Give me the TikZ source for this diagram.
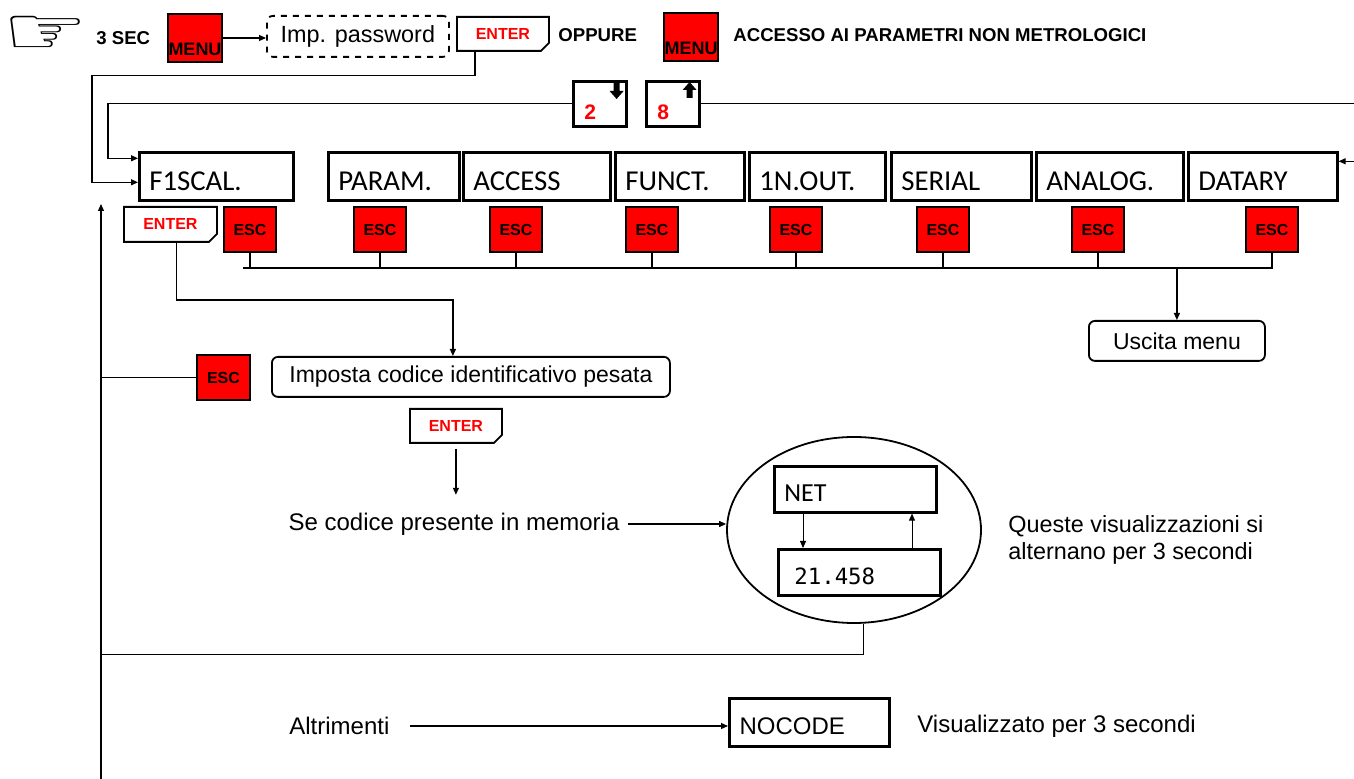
\documentclass[tikz,border=0pt]{standalone}
\usepackage{fontspec}
\setmainfont{Liberation Sans}
\newfontfamily\calibrifont{Carlito}
\newfontfamily\displayfont{DejaVu Sans Mono}
\newfontfamily\symbolfont{DejaVu Sans}
\usetikzlibrary{arrows.meta, positioning, calc, shapes.geometric, shapes.misc}

\begin{document}
\begin{tikzpicture}[
  x=0.5pt, y=-0.5pt,
  wire/.style    = {line width=0.6pt},
  arrow/.style   = {line width=0.6pt, -{Triangle[length=3.5pt, width=3pt]}},
  redkey/.style  = {draw, fill=red, line width=1.4pt, minimum width=26pt, minimum height=22.5pt,
                    inner sep=0pt, font=\bfseries\fontsize{8}{8}\selectfont},
  menukey/.style = {redkey, minimum width=27pt, minimum height=24pt, text height=18pt,
                    text depth=0pt, font=\bfseries\fontsize{9}{9}\selectfont},
  enterkey/.style = {chamfered rectangle, chamfered rectangle corners=south east,
                    chamfered rectangle xsep=2pt, chamfered rectangle ysep=2pt,
                    draw, line width=0.9pt, anchor=north west, inner sep=0pt,
                    minimum width=46pt, minimum height=17pt, text=red,
                    font=\bfseries\fontsize{8}{8}\selectfont},
  numkey/.style  = {draw, line width=1.3pt, anchor=north west, minimum height=22.5pt,
                    text width=15.5pt, align=left, inner xsep=5.5pt, inner ysep=0pt,
                    text height=15.5pt, text depth=0pt, text=red,
                    font=\bfseries\fontsize{10.5}{10.5}\selectfont},
  menubox/.style = {draw, line width=1.3pt, anchor=north west, minimum height=24pt,
                    text height=14pt, text depth=0pt, inner xsep=5pt, inner ysep=0pt,
                    align=left, font=\calibrifont\fontsize{14.4}{14.4}\selectfont},
  display/.style = {draw, line width=1.3pt, anchor=north west, minimum height=23pt,
                    text height=12pt, text depth=0pt, inner ysep=0pt, align=left},
  msgbox/.style  = {draw, line width=0.9pt, rounded corners=3pt, anchor=north west,
                    minimum height=20pt, font=\fontsize{11.5}{11.5}\selectfont},
  boldlbl/.style = {anchor=west, inner sep=0pt, font=\bfseries\fontsize{9.3}{9.3}\selectfont},
  plain/.style   = {inner sep=0pt, font=\fontsize{12}{14}\selectfont}
]
\useasboundingbox (0,0) rectangle (1354,779);

%--------------------------------------------------
% entry line
%--------------------------------------------------
\node[font=\symbolfont\fontsize{48}{48}\selectfont, inner sep=0pt] (hand) at (46,35)
  {\scalebox{1}[0.7]{☞}};
\node[boldlbl] (sec3) at (96,38) {3 SEC};
\node[menukey] (menu_a) at (195,38) {MENU};
\node[msgbox, dashed, minimum width=91pt, minimum height=20.5pt,
      font=\fontsize{11.7}{11.7}\selectfont] (pw) at (266,15) {Imp. password};
\node[enterkey] (enter_pw) at (456,16) {ENTER};
\node[boldlbl] (oppure) at (558,35) {OPPURE};
\node[menukey] (menu_b) at (691,37) {MENU};
\node[boldlbl] (accesso) at (733,35) {ACCESSO AI PARAMETRI NON METROLOGICI};

\draw[arrow] (menu_a.east) -- (menu_a.east -| pw.west);

% scroll keys
\node[numkey] (key_down) at (572,80) {2};
\node[numkey] (key_up) at (645,80) {8};
\fill ($(key_down.north east)+(-14,3)$) -- ++(6,0) -- ++(0,8) -- ++(4,0) -- ++(-7,8)
  -- ++(-7,-8) -- ++(4,0) -- cycle;
\fill ($(key_up.north east)+(-11,2)$) -- ++(7,8) -- ++(-4,0) -- ++(0,8) -- ++(-6,0)
  -- ++(0,-8) -- ++(-4,0) -- cycle;

%--------------------------------------------------
% menu row
%--------------------------------------------------
\node[menubox, text width=67pt]   (fiscal) at (138,151)  {F1SCAL.};
\node[menubox, text width=55.5pt] (param)  at (327,151)  {PARAM.};
\node[menubox, text width=63.5pt] (access) at (462,151)  {ACCESS};
\node[menubox, text width=54.5pt] (funct)  at (614,151)  {FUNCT.};
\node[menubox, text width=58pt]   (inout)  at (748,151)  {1N.OUT.};
\node[menubox, text width=60pt]   (serial) at (890,151)  {SERIAL};
\node[menubox, text width=63.5pt] (analog) at (1035,151) {ANALOG.};
\node[menubox, text width=64.5pt] (datary) at (1187,151) {DATARY};

\node[enterkey, minimum width=46.5pt, minimum height=17.5pt] (enter_f) at (123,206) {ENTER};

\node[redkey] (esc_fiscal) at (250,229.5)  {ESC};
\node[redkey] (esc_param)  at (380,229.5)  {ESC};
\node[redkey] (esc_access) at (516,229.5)  {ESC};
\node[redkey] (esc_funct)  at (652,229.5)  {ESC};
\node[redkey] (esc_inout)  at (796,229.5)  {ESC};
\node[redkey] (esc_serial) at (943,229.5)  {ESC};
\node[redkey] (esc_analog) at (1098,229.5) {ESC};
\node[redkey] (esc_datary) at (1272,229.5) {ESC};

\node[msgbox, minimum width=88pt] (uscita) at (1088,320) {Uscita menu};

% loops from the entry line and the scroll keys
\draw[arrow] ($(enter_pw.south west)+(19,0)$) -- ++(0,24) -| ($(fiscal.west)+(-46,6)$)
  -- ($(fiscal.west)+(0,6)$);
\draw[arrow] (key_down.west) -| ($(fiscal.west)+(-30,-18)$) -- ($(fiscal.west)+(0,-18)$);
\coordinate (edge_r) at (1354,0);
\draw[wire] (key_up.east) -- (key_up.east -| edge_r);
\draw[arrow] ($(datary.east)+(18,-15)$) -- ($(datary.east)+(0,-15)$);

% esc bus
\coordinate (bus_l) at (243,268);
\draw[wire] (bus_l) -| (esc_datary.south);
\draw[wire] (esc_fiscal.south) -- (esc_fiscal.south |- bus_l);
\draw[wire] (esc_param.south)  -- (esc_param.south |- bus_l);
\draw[wire] (esc_access.south) -- (esc_access.south |- bus_l);
\draw[wire] (esc_funct.south)  -- (esc_funct.south |- bus_l);
\draw[wire] (esc_inout.south)  -- (esc_inout.south |- bus_l);
\draw[wire] (esc_serial.south) -- (esc_serial.south |- bus_l);
\draw[wire] (esc_analog.south) -- (esc_analog.south |- bus_l);
\draw[arrow] (uscita.north |- bus_l) -- (uscita.north);

%--------------------------------------------------
% code entry
%--------------------------------------------------
\node[msgbox, minimum width=199pt] (imposta) at (271,356) {Imposta codice identificativo pesata};
\node[redkey, minimum width=26.5pt] (esc_back) at (223.5,377.5) {ESC};
\node[enterkey] (enter_m) at (409,408) {ENTER};
\node[plain] (se_codice) at (454,524) {Se codice presente in memoria};

\draw[arrow] ($(enter_f.south)+(6,0)$) |- ($(imposta.north)+(-18,-56)$)
  -- ($(imposta.north)+(-18,0)$);
\draw[arrow] ($(enter_m.south)+(0,5)$) -- ($(enter_m.south)+(0,51)$);

% alternating displays
\node[ellipse, draw, line width=0.9pt, inner sep=0pt, minimum width=127pt,
      minimum height=93pt] (alt) at (854,530) {};
\node[display, text width=71pt, inner xsep=5pt,
      font=\calibrifont\fontsize{13}{13}\selectfont] (net) at (773,465) {NET};
\node[display, text width=65pt, inner xsep=8pt,
      font=\displayfont\fontsize{11.2}{11.2}\selectfont] (value) at (777,548) {21.458};
\node[plain, anchor=west, align=left, font=\fontsize{11.7}{13.5}\selectfont] (alt_note)
  at (1008,540) {Queste visualizzazioni si\\alternano per 3 secondi};

\draw[arrow] (se_codice.east) ++(8,0) -- (se_codice.east -| alt.west);
\draw[arrow, line width=0.4pt] ($(net.south west)+(30,0)$) -- ($(value.north west)+(26,0)$);
\draw[arrow, line width=0.4pt] ($(value.north west)+(135,0)$) -- ($(net.south west)+(139,0)$);

% no code
\node[plain, anchor=west] (altrimenti) at (289,726) {Altrimenti};
\node[display, text width=70pt, inner xsep=5pt, minimum height=24pt, line width=1.6pt,
      text height=12pt, font=\fontsize{12}{12}\selectfont] (nocode) at (728,697) {NOCODE};
\node[plain, anchor=west] (nocode_note) at (917,726) {Visualizzato per 3 secondi};
\draw[arrow, shorten <=10pt] (altrimenti.east) -- (altrimenti.east -| nocode.west);

%--------------------------------------------------
% return rail
%--------------------------------------------------
\coordinate (rail_b) at (101,779);
\coordinate (rail_t) at (101,204);
\coordinate (edge_b) at (0,779);
\draw[arrow] (rail_b) -- (rail_t);
\draw[wire] (rail_t |- esc_back.west) -- (esc_back.west);
\coordinate (loop_back) at ($(alt.-84)+(0,31)$);
\draw[wire] (alt.-84) -- (loop_back) -- (loop_back -| rail_t);
\draw[wire] ($(nocode.south east)+(-33,0)$) -- ($(nocode.south east)+(-33,0)$ |- edge_b);

\end{tikzpicture}
\end{document}
